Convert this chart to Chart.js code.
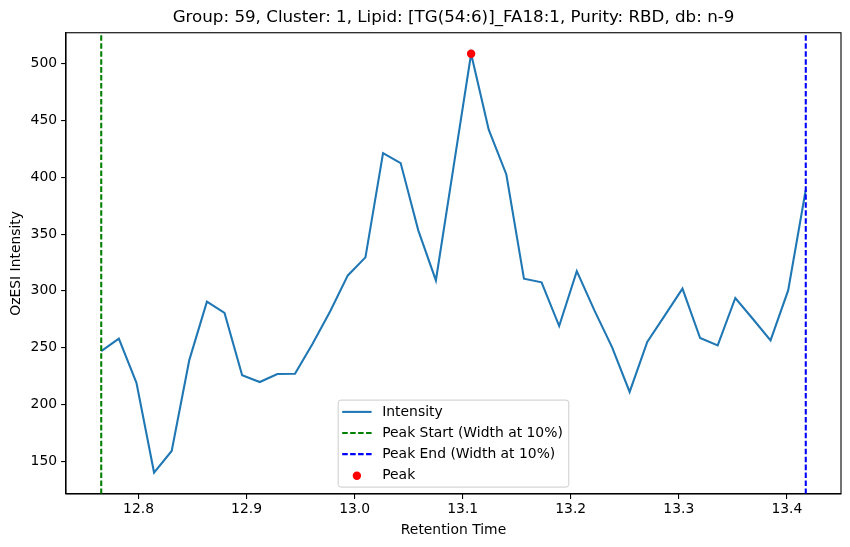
<!DOCTYPE html>
<html>
<head>
<meta charset="utf-8">
<script src="https://cdn.jsdelivr.net/npm/chart.js@4.4.1/dist/chart.umd.min.js"></script>
<style>
  html, body { margin: 0; padding: 0; background: #ffffff; }
  #wrap { width: 850px; height: 547px; position: relative; }
</style>
</head>
<body>
<div id="wrap"><canvas id="c" width="850" height="547"></canvas></div>
<script>
// ---- data ----
const retentionTime = [
  12.7655, 12.7818, 12.7981, 12.8144, 12.8307, 12.8470, 12.8633, 12.8796, 12.8959, 12.9122,
  12.9285, 12.9448, 12.9611, 12.9774, 12.9937, 13.0100, 13.0263, 13.0426, 13.0589, 13.0752,
  13.0915, 13.1078, 13.1241, 13.1404, 13.1567, 13.1730, 13.1893, 13.2056, 13.2219, 13.2382,
  13.2545, 13.2708, 13.2871, 13.3034, 13.3197, 13.3360, 13.3523, 13.3686, 13.3849, 13.4012,
  13.4175
];
const intensity = [
  247, 258, 219, 140, 159, 239, 290.5, 280.5, 225.6, 219.7,
  226.8, 227, 253.5, 282, 313.6, 329.5, 421.3, 412.5, 353.3, 309.2,
  409, 508.8, 441.9, 402.5, 310.7, 307.5, 269, 317.4, 282.8, 250.5,
  211, 255, 278.4, 302, 258.5, 252, 293.7, 275.2, 256.4, 300.4,
  389
];
const peakStart = 12.7655;
const peakEnd = 13.4175;
const peakTime = 13.1078;
const peakValue = 508.8;
const xLimits = [12.7329, 13.4501];
const yLimits = [121.1, 527.3];
const xTicks = [12.8, 12.9, 13.0, 13.1, 13.2, 13.3, 13.4];
const yTicks = [150, 200, 250, 300, 350, 400, 450, 500];
const titleText = 'Group: 59, Cluster: 1, Lipid: [TG(54:6)]_FA18:1, Purity: RBD, db: n-9';
const legendLabels = ['Intensity', 'Peak Start (Width at 10%)', 'Peak End (Width at 10%)', 'Peak'];

// ---- styling ----
const FONT = 'DejaVu Sans';
const DASH = [5.55, 2.4];

const lineData = retentionTime.map((t, i) => ({ x: t, y: intensity[i] }));

const frameAndLegend = {
  id: 'frameAndLegend',
  afterDatasetsDraw(chart) {
    const { ctx, chartArea: a } = chart;
    ctx.save();
    ctx.strokeStyle = '#000';
    ctx.lineWidth = 1.1;
    ctx.strokeRect(a.left, a.top, a.right - a.left, a.bottom - a.top);
    ctx.restore();
  },
  afterDraw(chart) {
    const { ctx, chartArea: a } = chart;
    const ds = chart.data.datasets;
    const fs = 13.9;
    ctx.save();
    ctx.font = fs + 'px "' + FONT + '"';
    let maxW = 0;
    ds.forEach(d => { maxW = Math.max(maxW, ctx.measureText(d.label).width); });
    const handleLen = 29.4, handleGap = 10.6, rowH = 21.1;
    const boxW = 4 + handleLen + handleGap + maxW + 6;
    const boxH = 87;
    const cx = (a.left + a.right) / 2;
    const bx = cx - boxW / 2;
    const by = a.bottom - 6.9 - boxH;
    const r = 2.8;
    ctx.beginPath();
    ctx.moveTo(bx + r, by);
    ctx.lineTo(bx + boxW - r, by);
    ctx.arcTo(bx + boxW, by, bx + boxW, by + r, r);
    ctx.lineTo(bx + boxW, by + boxH - r);
    ctx.arcTo(bx + boxW, by + boxH, bx + boxW - r, by + boxH, r);
    ctx.lineTo(bx + r, by + boxH);
    ctx.arcTo(bx, by + boxH, bx, by + boxH - r, r);
    ctx.lineTo(bx, by + r);
    ctx.arcTo(bx, by, bx + r, by, r);
    ctx.closePath();
    ctx.fillStyle = 'rgba(255,255,255,0.8)';
    ctx.fill();
    ctx.strokeStyle = '#cccccc';
    ctx.lineWidth = 1;
    ctx.stroke();
    ds.forEach((d, i) => {
      const yc = by + 11.8 + rowH * i;
      const hx = bx + 4;
      if (d.showLine === false) {
        ctx.beginPath();
        ctx.fillStyle = d.pointBackgroundColor;
        ctx.arc(hx + handleLen / 2, yc + 0.5, 4.2, 0, Math.PI * 2);
        ctx.fill();
      } else {
        ctx.beginPath();
        ctx.strokeStyle = d.borderColor;
        ctx.lineWidth = d.borderWidth;
        ctx.setLineDash(d.borderDash || []);
        ctx.moveTo(hx, yc);
        ctx.lineTo(hx + handleLen, yc);
        ctx.stroke();
        ctx.setLineDash([]);
      }
      ctx.fillStyle = '#000';
      ctx.textBaseline = 'middle';
      ctx.textAlign = 'left';
      ctx.fillText(d.label, hx + handleLen + handleGap, yc);
    });
    ctx.restore();
  }
};

new Chart(document.getElementById('c'), {
  type: 'scatter',
  data: {
    datasets: [
      {
        label: legendLabels[0],
        data: lineData,
        showLine: true,
        borderColor: '#1f77b4',
        backgroundColor: '#1f77b4',
        borderWidth: 2.08,
        pointRadius: 0,
        pointHoverRadius: 0,
        tension: 0,
        order: 4
      },
      {
        label: legendLabels[1],
        data: [{ x: peakStart, y: yLimits[0] }, { x: peakStart, y: yLimits[1] }],
        showLine: true,
        borderColor: '#008000',
        borderWidth: 2.08,
        borderDash: DASH,
        pointRadius: 0,
        order: 3
      },
      {
        label: legendLabels[2],
        data: [{ x: peakEnd, y: yLimits[0] }, { x: peakEnd, y: yLimits[1] }],
        showLine: true,
        borderColor: '#0000ff',
        borderWidth: 2.08,
        borderDash: DASH,
        pointRadius: 0,
        order: 2
      },
      {
        label: legendLabels[3],
        data: [{ x: peakTime, y: peakValue }],
        showLine: false,
        pointRadius: 4.2,
        pointBackgroundColor: '#ff0000',
        pointBorderColor: '#ff0000',
        pointBorderWidth: 0,
        order: 1
      }
    ]
  },
  options: {
    responsive: false,
    animation: false,
    devicePixelRatio: 1,
    layout: { padding: { left: 0, right: 9, top: 0, bottom: 0 } },
    plugins: {
      legend: { display: false },
      tooltip: { enabled: false },
      title: {
        display: true,
        text: titleText,
        fullSize: false,
        color: '#000',
        font: { family: FONT, size: 16.7, weight: 'normal' },
        padding: { top: 8, bottom: 4.7 }
      }
    },
    scales: {
      x: {
        type: 'linear',
        min: xLimits[0],
        max: xLimits[1],
        afterBuildTicks(s) { s.ticks = xTicks.map(v => ({ value: v })); },
        afterFit(s) { s.height = 53; },
        grid: { display: true, drawOnChartArea: false, drawTicks: true, tickLength: 4.9, color: '#000', lineWidth: 1.1 },
        border: { display: true, color: '#000', width: 1.1 },
        ticks: {
          color: '#000',
          font: { family: FONT, size: 13.9 },
          padding: 2,
          maxRotation: 0,
          autoSkip: false,
          callback: v => Number(v).toFixed(1)
        },
        title: {
          display: true,
          text: 'Retention Time',
          color: '#000',
          font: { family: FONT, size: 13.9 },
          padding: { top: 0, bottom: 8.7 }
        }
      },
      y: {
        type: 'linear',
        min: yLimits[0],
        max: yLimits[1],
        afterBuildTicks(s) { s.ticks = yTicks.map(v => ({ value: v })); },
        afterFit(s) { s.width = 66; },
        grid: { display: true, drawOnChartArea: false, drawTicks: true, tickLength: 4.9, color: '#000', lineWidth: 1.1 },
        border: { display: true, color: '#000', width: 1.1 },
        ticks: {
          color: '#000',
          font: { family: FONT, size: 13.9 },
          padding: 4,
          autoSkip: false,
          callback: v => String(v)
        },
        title: {
          display: true,
          text: 'OzESI Intensity',
          color: '#000',
          font: { family: FONT, size: 13.9 },
          padding: { top: 8, bottom: 0 }
        }
      }
    }
  },
  plugins: [frameAndLegend]
});
</script>
</body>
</html>
